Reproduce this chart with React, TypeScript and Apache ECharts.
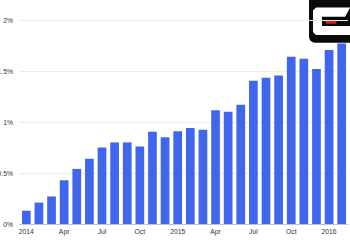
import React, { useEffect, useRef } from "react";
import * as echarts from "echarts";

const categories: string[] = [
  "2014", "Feb", "Mar", "Apr", "May", "Jun", "Jul", "Aug", "Sep", "Oct", "Nov", "Dec",
  "2015", "Feb", "Mar", "Apr", "May", "Jun", "Jul", "Aug", "Sep", "Oct", "Nov", "Dec",
  "2016", "Feb",
];

const values: number[] = [
  0.13, 0.21, 0.27, 0.43, 0.54, 0.64, 0.75, 0.8, 0.8, 0.76, 0.905, 0.85,
  0.91, 0.94, 0.925, 1.115, 1.1, 1.17, 1.405, 1.435, 1.455, 1.64, 1.62, 1.52,
  1.705, 1.77,
];

const yTicks: number[] = [0, 0.5, 1, 1.5, 2];

export default function App() {
  const ref = useRef<HTMLDivElement>(null);
  useEffect(() => {
    if (!ref.current) return;
    const chart = echarts.init(ref.current, null, { renderer: "svg" });
    chart.setOption({
      animation: false,
      grid: {
        left: 20,
        right: 2,
        top: 20,
        bottom: 26,
        containLabel: false,
        outerBoundsMode: "none",
      },
      xAxis: {
        type: "category",
        data: categories,
        axisLine: { show: true, lineStyle: { color: "#c4c4c4", width: 1 } },
        axisTick: { show: false },
        axisLabel: {
          interval: 2,
          fontSize: 6.8,
          color: "#333",
          margin: 4,
          fontFamily: "Liberation Sans, Arial, sans-serif",
        },
      },
      yAxis: {
        type: "value",
        min: yTicks[0],
        max: yTicks[yTicks.length - 1],
        interval: 0.5,
        axisLine: { show: false },
        axisTick: { show: false },
        splitLine: { lineStyle: { color: "#ececec", width: 1 } },
        axisLabel: {
          fontSize: 6.8,
          color: "#333",
          margin: 7,
          fontFamily: "Liberation Sans, Arial, sans-serif",
          formatter: (v: number) => `${v}%`,
        },
      },
      series: [
        {
          type: "bar",
          data: values,
          barCategoryGap: "31%",
          itemStyle: { color: "#3f66ec" },
        },
      ],
      graphic: [
        {
          type: "group",
          z: 100,
          children: [
            {
              type: "rect",
              shape: { x: 309, y: -8, width: 50, height: 50.7, r: 6 },
              style: { fill: "#0a0a0a" },
            },
            {
              type: "polygon",
              shape: {
                points: [
                  [316, 7.5], [352, 7.5], [350, 8], [345, 16.7], [322, 16.7],
                  [322, 26], [352, 26], [352, 35], [316, 35], [313, 32],
                  [313, 10.5],
                ],
              },
              style: { fill: "#ffffff" },
            },
            {
              type: "rect",
              shape: { x: 325.5, y: 20, width: 11, height: 3.8, r: 1.5 },
              style: { fill: "#d21c1c" },
            },
          ],
        },
      ],
    });
    return () => chart.dispose();
  }, []);
  return (
    <div
      ref={ref}
      style={{ position: "fixed", left: 0, top: 0, width: 350, height: 250, background: "#fff" }}
    />
  );
}
